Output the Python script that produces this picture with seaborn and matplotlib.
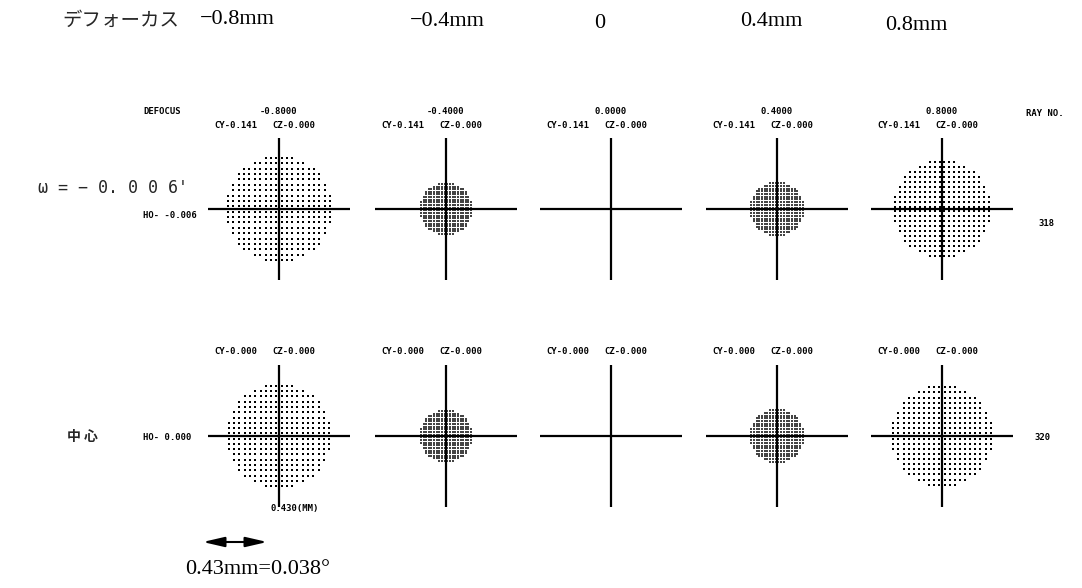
import numpy as np
import pandas as pd
import matplotlib
matplotlib.use("Agg")
import matplotlib.pyplot as plt
import seaborn as sns
from matplotlib.patches import FancyArrowPatch

# ---- data ----
defocus_mm = [-0.8, -0.4, 0.0, 0.4, 0.8]
defocus_labels = ["-0.8000", "-0.4000", "0.0000", "0.4000", "0.8000"]
header_labels = ["−0.8mm", "−0.4mm", "0", "0.4mm", "0.8mm"]
field_labels = ["ω = − 0. 0 0 6'", "中 心"]
ho_labels = ["HO- -0.006", "HO- 0.000"]
cy_labels = ["CY-0.141", "CY-0.000"]
cz_labels = ["CZ-0.000", "CZ-0.000"]
ray_counts = ["318", "320"]
spot_radius_row1 = [0.325, 0.160, 0.0, 0.165, 0.300]   # mm
spot_radius_row2 = [0.320, 0.160, 0.0, 0.165, 0.310]   # mm
pupil_samples = 20
scale_mm = 0.43

# ---- layout helpers ----
W, H = 1082, 588
sns.set_style("white")
plt.rcParams['font.family'] = ['DejaVu Sans', 'Noto Sans CJK JP']
fig = plt.figure(figsize=(W / 100, H / 100), dpi=100)
fig.patch.set_facecolor("white")

def fx(x):
    return x / W

def fy(y):
    return 1 - y / H

col_x = [279, 446, 611, 777, 942]
row_y = [209, 436]
half = 71

# pupil sampling grid (unit circle)
g = (np.arange(pupil_samples) - (pupil_samples - 1) / 2) / (pupil_samples / 2)
px, py = np.meshgrid(g, g)
mask = px ** 2 + py ** 2 <= 1.0
px, py = px[mask], py[mask]

mono = dict(family="DejaVu Sans Mono", fontweight="bold", fontsize=6.4, color="black")

for r, radii in enumerate([spot_radius_row1, spot_radius_row2]):
    for c, rad in enumerate(radii):
        cx, cy = col_x[c], row_y[r]
        ax = fig.add_axes([fx(cx - half), fy(cy + half), 2 * half / W, 2 * half / H])
        df = pd.DataFrame({"y": px * rad, "z": py * rad})
        if rad > 0:
            small = rad < 0.2
            sns.scatterplot(data=df, x="y", y="z", ax=ax,
                            color="#444444" if small else "black",
                            s=1.0 if small else 2.2,
                            marker="s", linewidth=0, legend=False)
        ax.axhline(0, color="black", lw=1.6)
        ax.axvline(0, color="black", lw=1.6)
        ax.set_xlim(-scale_mm, scale_mm)
        ax.set_ylim(-scale_mm, scale_mm)
        ax.set_axis_off()
        # CY / CZ labels
        ycap = 126 if r == 0 else 351
        fig.text(fx(cx - 22), fy(ycap), cy_labels[r], ha="right", va="center", **mono)
        fig.text(fx(cx - 7), fy(ycap), cz_labels[r], ha="left", va="center", **mono)
        if r == 0:
            fig.text(fx(cx), fy(112), defocus_labels[c], ha="center", va="center", **mono)

# row annotations
fig.text(fx(143), fy(112), "DEFOCUS", ha="left", va="center", **mono)
fig.text(fx(1045), fy(113), "RAY NO.", ha="center", va="center", **mono)
fig.text(fx(143), fy(215), ho_labels[0], ha="left", va="center", **mono)
fig.text(fx(143), fy(437), ho_labels[1], ha="left", va="center", **mono)
fig.text(fx(1047), fy(224), ray_counts[0], ha="center", va="center", **mono)
fig.text(fx(1043), fy(438), ray_counts[1], ha="center", va="center", **mono)
fig.text(fx(295), fy(508), "0.430(MM)", ha="center", va="center", **mono)

fig.text(fx(38), fy(188), field_labels[0], ha="left", va="center",
         family=["DejaVu Sans Mono", "DejaVu Sans"], fontsize=12)
fig.text(fx(82), fy(437), field_labels[1], ha="center", va="center",
         family=["Noto Sans CJK JP", "DejaVu Sans"], fontsize=10, fontweight="bold")

# header row
serif = dict(family=["Liberation Serif", "DejaVu Serif"], fontsize=16, color="black")
fig.text(fx(62), fy(20), "デフォーカス", ha="left", va="center",
         family=["Noto Sans CJK JP", "DejaVu Sans"], fontsize=14)
hx = [200, 410, 600, 740, 885]
hy = [20, 22, 24, 22, 26]
for lab, x, y in zip(header_labels, hx, hy):
    fig.text(fx(x), fy(y), lab, ha="center" if lab == "0" else "left", va="center", **serif)

# scale arrow
arrow = FancyArrowPatch((fx(200), fy(542)), (fx(270), fy(542)), transform=fig.transFigure,
                        arrowstyle="<|-|>,head_length=13,head_width=3", color="black",
                        lw=1.5, mutation_scale=1)
fig.patches.append(arrow)
fig.text(fx(185), fy(570), "0.43mm=0.038°", ha="left", va="center", **serif)

fig.savefig("out.png", dpi=100, facecolor="white")
